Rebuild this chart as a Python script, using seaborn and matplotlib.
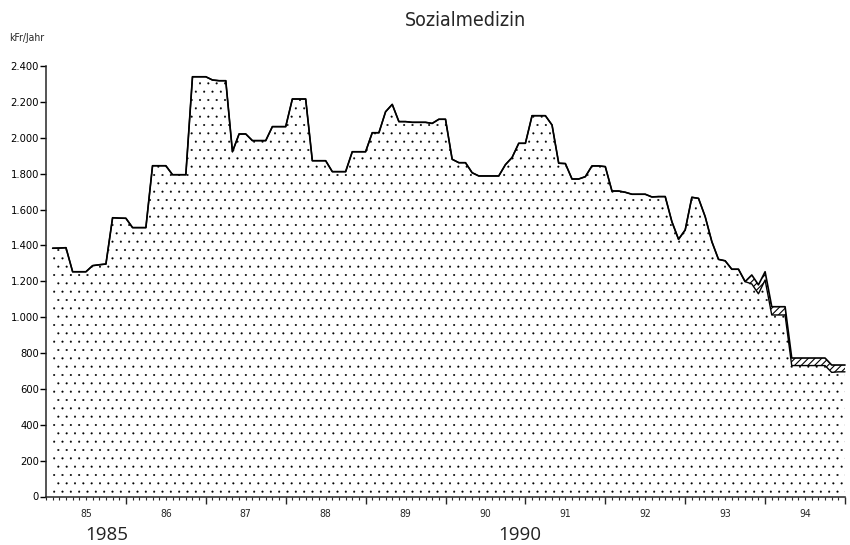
import numpy as np
import pandas as pd
import matplotlib
matplotlib.use("Agg")
import matplotlib.pyplot as plt
import seaborn as sns
from matplotlib.ticker import FuncFormatter, MultipleLocator

sns.set_style("ticks")
plt.rcParams["font.family"] = ["DejaVu Sans"]
plt.rcParams["font.stretch"] = "condensed"

# ---- data (monthly, kFr/Jahr) ----
titel = "Sozialmedizin"
einheit = "kFr/Jahr"
jahr_labels = ["85", "86", "87", "88", "89", "90", "91", "92", "93", "94"]
jahre = [1985, 1986, 1987, 1988, 1989, 1990, 1991, 1992, 1993, 1994]

kosten_basis = [
    1384, 1385, 1387, 1253, 1253, 1253, 1287, 1292, 1296, 1554, 1552, 1551,
    1499, 1499, 1499, 1844, 1844, 1844, 1794, 1794, 1794, 2340, 2340, 2340,
    2322, 2318, 2318, 1922, 2021, 2021, 1984, 1984, 1984, 2062, 2062, 2062,
    2216, 2216, 2216, 1872, 1872, 1872, 1811, 1811, 1811, 1922, 1922, 1922,
    2028, 2028, 2145, 2186, 2090, 2090, 2086, 2086, 2086, 2080, 2103, 2103,
    1880, 1861, 1861, 1805, 1787, 1787, 1787, 1787, 1850, 1890, 1969, 1969,
    2123, 2123, 2123, 2071, 1858, 1856, 1770, 1770, 1783, 1843, 1843, 1839,
    1703, 1703, 1696, 1685, 1685, 1685, 1670, 1672, 1672, 1532, 1434, 1486,
    1668, 1662, 1560, 1421, 1322, 1314, 1267, 1267, 1198, 1185, 1130, 1207,
    1012, 1012, 1012, 730, 730, 730, 730, 730, 730, 692, 695, 695,
]
# upper series (incl. additional part) from month index 104 on
kosten_gesamt_ende = [1198, 1235, 1180, 1253, 1058, 1058, 1058, 772, 772, 772,
                      772, 772, 772, 733, 733, 733]

n = len(kosten_basis)
monat = np.arange(n)
df = pd.DataFrame({"jahr": 1985 + (monat + 1) / 12.0, "basis": kosten_basis})
gesamt = df["basis"].astype(float).copy()
gesamt.iloc[n - len(kosten_gesamt_ende):] = kosten_gesamt_ende
df["gesamt"] = gesamt

# ---- figure ----
fig = plt.figure(figsize=(8.5, 5.45), dpi=100)
ax = fig.add_axes([46 / 850, 48.5 / 545, 799 / 850, 430.5 / 545])

with plt.rc_context({"hatch.linewidth": 0.25}):
    ax.fill_between(df["jahr"], 0, df["basis"], facecolor="white",
                    edgecolor="black", hatch="..", linewidth=0)
with plt.rc_context({"hatch.linewidth": 0.8}):
    ax.fill_between(df["jahr"], df["basis"], df["gesamt"], facecolor="white",
                    edgecolor="black", hatch="/////", linewidth=0)
sns.lineplot(data=df, x="jahr", y="gesamt", color="black", lw=1.2, ax=ax,
             clip_on=False)
sns.lineplot(data=df, x="jahr", y="basis", color="black", lw=1.0, ax=ax,
             clip_on=False)

ax.set_xlim(1985, 1995)
ax.set_ylim(0, 2400)
sns.despine(ax=ax)
ax.set_xlabel("")
ax.set_ylabel("")

# y axis
ax.yaxis.set_major_locator(MultipleLocator(200))
ax.yaxis.set_major_formatter(FuncFormatter(lambda v, p: f"{int(v):,}".replace(",", ".")))
ax.tick_params(axis="y", direction="out", length=4, width=1, pad=1,
               labelsize=8, colors="black")
ax.spines["left"].set_linewidth(1.1)
ax.spines["bottom"].set_linewidth(1.1)

# x axis: year boundaries (major), months (minor), labels mid-year
ax.set_xticks([j + 1 for j in jahre])
ax.set_xticklabels([])
ax.xaxis.set_minor_locator(MultipleLocator(1 / 12))
ax.tick_params(axis="x", which="major", direction="out", length=5, width=1)
ax.tick_params(axis="x", which="minor", direction="out", length=2.5, width=0.8)

sec = ax.secondary_xaxis("bottom")
sec.set_xticks([j + 0.5 for j in jahre], jahr_labels)
sec.tick_params(length=0, pad=9, labelsize=7.5)
sec.spines["bottom"].set_visible(False)

# texts
fig.text(466 / 850, 1 - 20 / 545, titel, ha="center", va="center", fontsize=14)
fig.text(9 / 850, 1 - 38 / 545, einheit, ha="left", va="center", fontsize=7.5)
fig.text(107 / 850, 1 - 535 / 545, "1985", ha="center", va="center",
         fontsize=13.5, family=["Open Sans", "DejaVu Sans"], stretch="normal",
         color="#222222")
fig.text(520 / 850, 1 - 535 / 545, "1990", ha="center", va="center",
         fontsize=13.5, family=["Open Sans", "DejaVu Sans"], stretch="normal",
         color="#222222")

fig.savefig("out.png", dpi=100, facecolor="white")
